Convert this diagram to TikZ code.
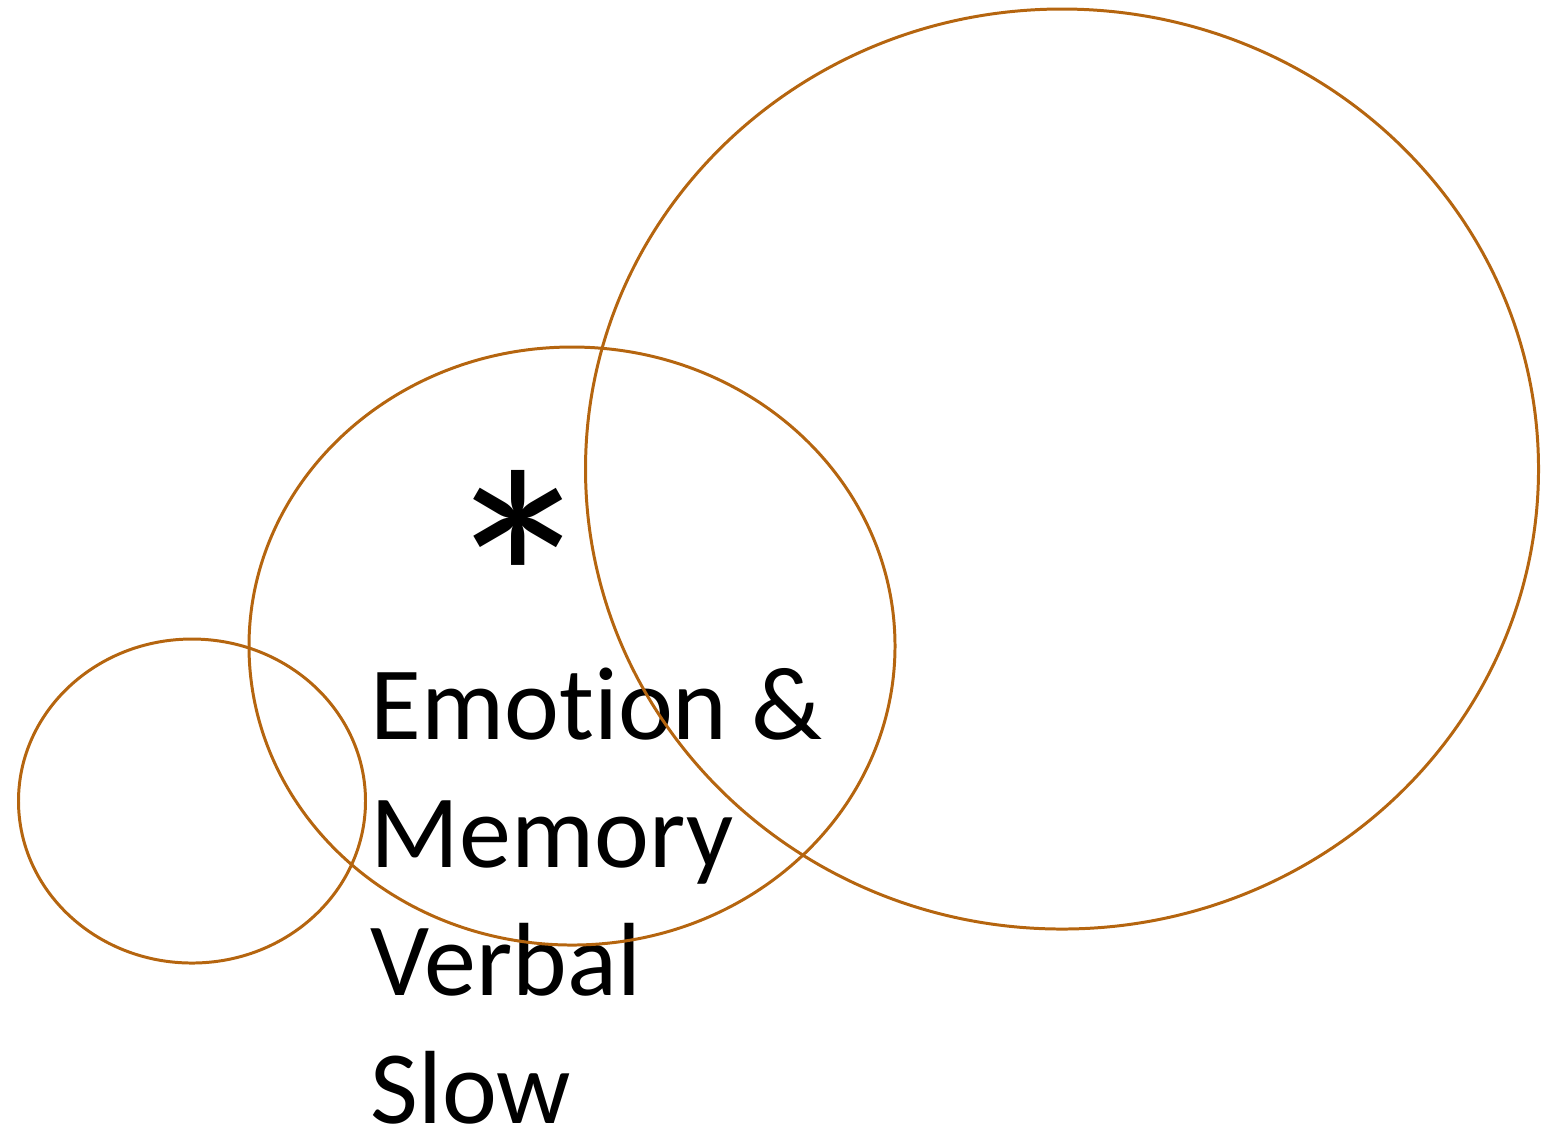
\documentclass[tikz,border=0pt]{standalone}
\usepackage{fontspec}
\setmainfont[Ligatures=NoCommon]{Carlito}
\usepackage{tikz}
\usetikzlibrary{shapes.geometric}
\definecolor{ochre}{HTML}{B5650F}

\begin{document}
\begin{tikzpicture}[
      ring/.style={ellipse, draw=ochre, line width=0.85pt, inner sep=0pt},
      words/.style={inner sep=0pt, align=left, text=black,
                    font=\fontsize{29.6}{36.4}\selectfont}
    ]
      \useasboundingbox (0,0) rectangle (15.6,-11.33);
      \node[words, anchor=base west] (txt) at (3.70,-11.23) {Emotion \&\\Memory\\Verbal\\Slow};
      \node[inner sep=0pt, font=\fontsize{89}{89}\selectfont] (star) at (5.18,-5.81) {*};
      \node[ring, minimum width=3.47cm, minimum height=3.24cm] (small) at (1.92,-8.01) {};
      \node[ring, minimum width=6.46cm, minimum height=5.98cm] (mid) at (5.72,-6.46) {};
      \node[ring, minimum width=9.53cm, minimum height=9.20cm] (big) at (10.62,-4.69) {};
    \end{tikzpicture}
\end{document}
